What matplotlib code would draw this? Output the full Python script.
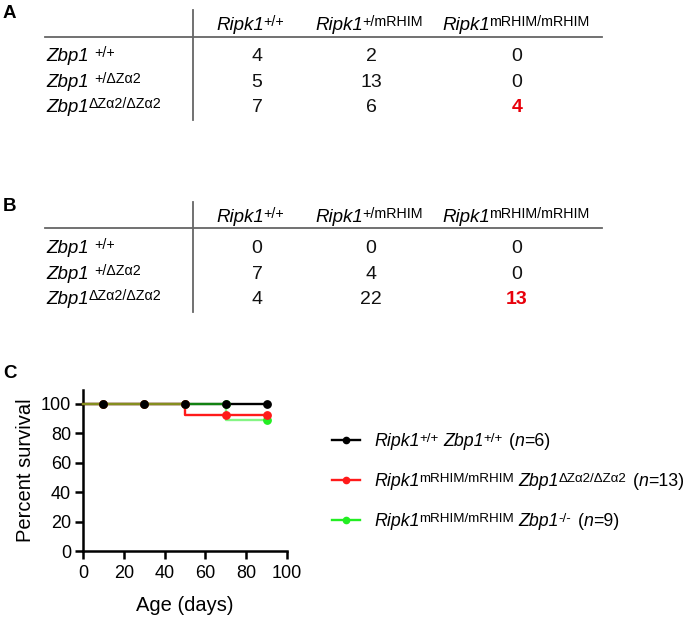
import matplotlib
matplotlib.use('Agg')
import matplotlib.pyplot as plt
from matplotlib.lines import Line2D

W, H = 693, 619
FONT = ['Liberation Sans', 'DejaVu Sans']

# ---------------- data ----------------
ripk1_genotypes = ["+/+", "+/mRHIM", "mRHIM/mRHIM"]
zbp1_genotypes = ["+/+", "+/ΔZα2", "ΔZα2/ΔZα2"]
counts_a = [[4, 2, 0], [5, 13, 0], [7, 6, 4]]
counts_b = [[0, 0, 0], [7, 4, 0], [4, 22, 13]]
highlight_cell = (2, 2)

days = [0, 10, 30, 50, 70, 90]
surv_wt = [100, 100, 100, 100, 100, 100]
surv_dza = [100, 100, 100, 100, 92.3, 92.3]
surv_ko = [100, 100, 100, 100, 100, 88.9]
legend_n = [6, 13, 9]
x_ticks = [0, 20, 40, 60, 80, 100]
y_ticks = [0, 20, 40, 60, 80, 100]

# ---------------- figure ----------------
fig = plt.figure(figsize=(W / 100, H / 100), dpi=100)
renderer = fig.canvas.get_renderer()


def fx(x):
    return x / W


def fy(y):
    return 1 - y / H


MAIN = 13.5
SUP = 10.3


def rich(x, y, segs, ha='left', main=MAIN, sup=SUP, color='black'):
    """segs: (text, kind, gap_px). y is baseline in px from top."""
    arts = []
    pos = 0.0
    for s, kind, gap in segs:
        size = sup if kind.startswith('sup') else main
        style = 'italic' if kind == 'it' else 'normal'
        weight = 'bold' if kind == 'bold' else 'normal'
        raise_px = (0.716 * (main - sup) * 100 / 72 + 1.0) if kind.startswith('sup') else 0
        t = fig.text(0, 0, s, fontsize=size, fontstyle=style, fontweight=weight,
                     family=FONT, color=color, va='baseline', ha='left')
        pos += gap
        w = t.get_window_extent(renderer).width
        arts.append((t, pos, raise_px))
        pos += w
    x0 = x - pos / 2 if ha == 'center' else x
    for t, off, r in arts:
        t.set_position((fx(x0 + off), fy(y - r)))
    return pos


def hline(x0, x1, y, lw=1.3, color='#666666'):
    fig.add_artist(Line2D([fx(x0), fx(x1)], [fy(y), fy(y)], lw=lw, color=color))


def vline(x, y0, y1, lw=1.3, color='#666666'):
    fig.add_artist(Line2D([fx(x), fx(x)], [fy(y0), fy(y1)], lw=lw, color=color))


def draw_table(dy, letter, counts):
    fig.text(fx(3), fy(14 + dy), letter, fontsize=13.5, fontweight='bold',
             family=FONT, va='center', ha='left')
    vline(193, 10 + dy, 120 + dy)
    hline(45, 602, 36.5 + dy)
    col_x = [250, 369, 516]
    val_x = [257, 371, 517]
    for cx, g in zip(col_x, ripk1_genotypes):
        rich(cx, 30.5 + dy, [("Ripk1", 'it', 0), (g, 'sup', -0.5)], ha='center')
    row_y = [61, 87, 112.5]
    for i, (ry, g) in enumerate(zip(row_y, zbp1_genotypes)):
        gap = 6 if i < 2 else 0
        rich(46, ry + dy, [("Zbp1", 'it', 0), (g, 'sup', gap)])
        for j, vx in enumerate(val_x):
            v = counts[i][j]
            if (i, j) == highlight_cell:
                fig.text(fx(vx), fy(ry + dy), str(v), fontsize=MAIN + 0.5, fontweight='bold',
                         color='#e8000b', family=FONT, ha='center', va='baseline')
            else:
                fig.text(fx(vx), fy(ry + dy), str(v), fontsize=MAIN + 0.5,
                         color='#111111', family=FONT, ha='center', va='baseline')


draw_table(0, "A", counts_a)
draw_table(192, "B", counts_b)

# ---------------- panel C ----------------
fig.text(fx(3), fy(373), "C", fontsize=13.5, fontweight='bold', family=FONT,
         va='center', ha='left')

ax = fig.add_axes([fx(83), fy(551), 204 / W, 161 / H])
ax.set_xlim(0, 100)
ax.set_ylim(0, 109.5)
for s in ('top', 'right'):
    ax.spines[s].set_visible(False)
for s in ('left', 'bottom'):
    ax.spines[s].set_linewidth(1.8)
ax.set_xticks(x_ticks)
ax.set_yticks(y_ticks)
ax.tick_params(direction='out', length=6, width=1.8, labelsize=13)
ax.tick_params(axis='x', pad=4)
ax.tick_params(axis='y', pad=2.5)
for lab in ax.get_xticklabels() + ax.get_yticklabels():
    lab.set_family(FONT)
ax.set_ylabel("Percent survival", fontsize=14.5, family=FONT, labelpad=4)
ax.set_xlabel("Age (days)", fontsize=14.5, family=FONT, labelpad=10)

RED = '#ff1a1a'
GREEN = '#22ee22'
ax.step(days, surv_wt, where='pre', color='black', lw=1.7, zorder=3, clip_on=False)
ax.step(days, surv_dza, where='pre', color=RED, lw=1.7, zorder=4, clip_on=False)
ax.step(days, surv_ko, where='pre', color=GREEN, lw=1.7, alpha=0.55, zorder=5, clip_on=False)
ax.plot(days[1:], surv_ko[1:], ls='none', marker='o', ms=5.3, color=GREEN, zorder=7, clip_on=False)
ax.plot(days[1:], surv_dza[1:], ls='none', marker='o', ms=5.3, color=RED, zorder=8, clip_on=False)
ax.plot(days[1:], surv_wt[1:], ls='none', marker='o', ms=5.3, color='black', zorder=9, clip_on=False)

# legend
leg_rows = [440, 480, 520]
leg_cols = ['black', RED, GREEN]
for ry, col in zip(leg_rows, leg_cols):
    fig.add_artist(Line2D([fx(332), fx(360)], [fy(ry), fy(ry)], lw=1.7, color=col))
    fig.add_artist(Line2D([fx(346)], [fy(ry)], ls='none', marker='o', ms=4.5, color=col))

LM, LS = 12.8, 9.6
zbp1_legend = ["+/+", "ΔZα2/ΔZα2", "-/-"]
ripk1_legend = ["+/+", "mRHIM/mRHIM", "mRHIM/mRHIM"]
for ry, rg, zg, n in zip(leg_rows, ripk1_legend, zbp1_legend, legend_n):
    rich(374, ry + 6.5, [("Ripk1", 'it', 0), (rg, 'sup', -0.5), ("Zbp1", 'it', 5),
                         (zg, 'sup', -0.5), ("(", 'rm', 6), ("n", 'it', 0), ("=%d)" % n, 'rm', 0)],
         main=LM, sup=LS)

fig.savefig("out.png", dpi=100)
